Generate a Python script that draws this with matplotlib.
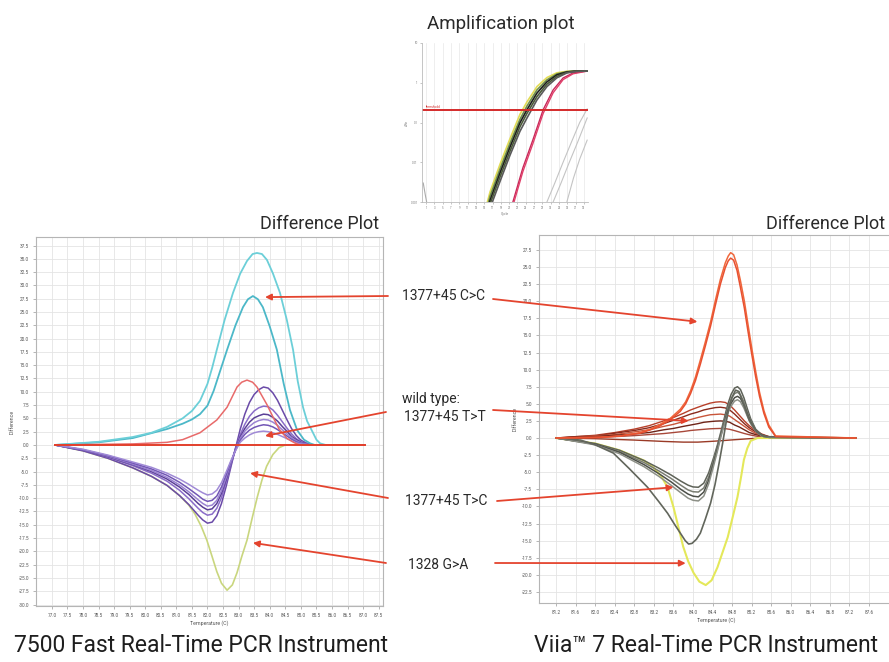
import matplotlib
matplotlib.use("Agg")
import matplotlib.pyplot as plt
from matplotlib import font_manager

# ---- amplification plot (cycle, delta Rn) ----
amp_bundle_x = [15.5, 16.4, 18.8, 21.2, 23.6, 25.3, 27.7, 30.1, 32.5, 34.9, 37.0, 39.8]
amp_bundle = [
    [0.0008, 0.0018, 0.0089, 0.039, 0.16, 0.33, 0.80, 1.35, 1.78, 1.94, 1.98, 1.99],
    [0.0006, 0.0014, 0.0068, 0.030, 0.12, 0.26, 0.66, 1.18, 1.67, 1.90, 1.97, 1.99],
    [0.0005, 0.0011, 0.0054, 0.024, 0.098, 0.21, 0.55, 1.05, 1.58, 1.87, 1.96, 1.98],
    [0.0004, 0.0009, 0.0043, 0.019, 0.078, 0.17, 0.45, 0.92, 1.45, 1.82, 1.94, 1.98],
    [0.0003, 0.0007, 0.0033, 0.015, 0.060, 0.13, 0.37, 0.80, 1.33, 1.76, 1.92, 1.97],
]
amp_bundle_colors = ["#e2dc55", "#6f8f4a", "#1e1e1e", "#4a5a38", "#5a5a5a"]
amp_red_x = [21.0, 21.9, 24.3, 26.7, 29.2, 31.6, 34.0, 36.4, 39.8]
amp_red = [
    [0.0005, 0.001, 0.0072, 0.036, 0.21, 0.66, 1.32, 1.76, 1.98],
    [0.0004, 0.0008, 0.0058, 0.029, 0.17, 0.56, 1.20, 1.68, 1.96],
]
amp_grey_x = [
    [29.5, 30.1, 32.0, 34.0, 36.0, 38.0, 39.8],
    [31.0, 31.6, 33.5, 35.5, 37.5, 39.8],
    [34.3, 34.9, 36.5, 38.0, 39.8],
]
amp_grey = [
    [0.0006, 0.001, 0.003, 0.010, 0.032, 0.10, 0.22],
    [0.0006, 0.001, 0.003, 0.010, 0.032, 0.13],
    [0.0006, 0.001, 0.004, 0.012, 0.036],
]
amp_tail_x = [0.3, 0.8, 1.2]
amp_tail = [0.003, 0.0015, 0.0009]
amp_threshold = 0.21

# ---- 7500 Fast difference plot ----
l_cyan_a_x = [77.1, 78.5, 79.6, 80.2, 80.7, 81.2, 81.5, 81.76, 82.0, 82.15, 82.3, 82.55, 82.82,
              83.05, 83.27, 83.45, 83.59, 83.75, 83.91, 84.1, 84.33, 84.55, 84.75, 84.9, 85.07,
              85.2, 85.39, 85.5, 85.62, 85.8, 87.06]
l_cyan_a = [0, 0.6, 1.5, 2.3, 3.4, 5.0, 6.4, 8.3, 11.5, 14.5, 17.9, 23.5, 28.6,
            32.2, 34.6, 35.9, 36.1, 35.9, 34.8, 32.3, 28.6, 23.5, 17.9, 12.0, 7.1,
            4.5, 2.3, 1.0, 0.3, 0, 0]
l_cyan_b_x = [77.1, 78.5, 79.6, 80.7, 81.2, 81.5, 81.76, 82.0, 82.2, 82.4, 82.63, 82.9, 83.14,
              83.3, 83.46, 83.62, 83.78, 84.0, 84.23, 84.45, 84.65, 84.88, 85.1, 85.3, 85.45, 87.06]
l_cyan_b = [0, 0.5, 1.3, 3.0, 4.0, 4.8, 5.8, 7.4, 10.2, 13.8, 17.9, 22.5, 25.9,
            27.4, 28.0, 27.4, 25.9, 22.3, 17.9, 11.5, 6.6, 2.8, 1.0, 0.3, 0, 0]
l_salmon_x = [77.1, 79.6, 80.7, 81.2, 81.76, 82.3, 82.63, 82.95, 83.1, 83.27, 83.45, 83.59,
              83.91, 84.11, 84.3, 84.56, 84.8, 84.97, 87.06]
l_salmon = [0, 0.2, 0.5, 1.0, 2.3, 4.7, 7.1, 10.9, 11.8, 12.2, 11.8, 10.9,
            7.6, 5.2, 3.0, 1.2, 0.4, 0, 0]
l_ref_x = [77.1, 87.06]
l_ref = [0, 0]
l_purple_x = [77.1, 78.0, 78.8, 79.6, 80.2, 80.7, 81.1, 81.4, 81.7, 81.85, 82.0, 82.15, 82.3,
              82.45, 82.6, 82.75, 82.9, 83.05, 83.2, 83.35, 83.5, 83.65, 83.8, 83.95, 84.1,
              84.25, 84.4, 84.55, 84.7, 84.85, 85.0, 85.2, 85.4, 87.06]
l_purple = [
    [0, -1.1, -2.5, -4.3, -5.9, -7.6, -9.5, -11.2, -13.2, -14.1, -14.7, -14.5, -13.3,
     -11.0, -7.8, -4.2, -0.6, 2.9, 5.8, 8.0, 9.5, 10.4, 10.9, 10.7, 9.8,
     8.4, 6.6, 4.8, 3.1, 1.8, 0.9, 0.3, 0, 0],
    [0, -1.0, -2.3, -3.9, -5.3, -6.8, -8.5, -10.1, -11.9, -12.7, -13.2, -13.0, -11.9,
     -9.9, -7.0, -3.8, -0.7, 1.9, 3.9, 5.4, 6.4, 7.0, 7.3, 7.2, 6.6,
     5.6, 4.4, 3.2, 2.1, 1.2, 0.6, 0.2, 0, 0],
    [0, -1.0, -2.2, -3.7, -5.0, -6.4, -7.9, -9.3, -11.0, -11.7, -12.2, -12.0, -11.0,
     -9.1, -6.5, -3.6, -0.8, 1.5, 3.1, 4.3, 5.1, 5.5, 5.8, 5.7, 5.2,
     4.5, 3.5, 2.6, 1.6, 1.0, 0.5, 0.2, 0, 0],
    [0, -0.9, -2.1, -3.6, -4.8, -6.1, -7.5, -8.8, -10.3, -11.0, -11.5, -11.3, -10.4,
     -8.6, -6.1, -3.4, -0.9, 1.2, 2.6, 3.5, 4.2, 4.6, 4.8, 4.7, 4.3,
     3.7, 2.9, 2.1, 1.4, 0.8, 0.4, 0.1, 0, 0],
    [0, -0.9, -2.0, -3.4, -4.5, -5.7, -7.0, -8.2, -9.5, -10.2, -10.6, -10.4, -9.6,
     -7.9, -5.6, -3.2, -1.0, 0.9, 2.0, 2.8, 3.3, 3.6, 3.8, 3.7, 3.4,
     2.9, 2.3, 1.7, 1.1, 0.6, 0.3, 0.1, 0, 0],
    [0, -0.8, -1.9, -3.2, -4.2, -5.3, -6.4, -7.4, -8.5, -9.0, -9.4, -9.2, -8.5,
     -7.1, -5.1, -3.0, -1.1, 0.5, 1.3, 1.9, 2.3, 2.5, 2.6, 2.5, 2.3,
     2.0, 1.6, 1.2, 0.8, 0.4, 0.2, 0.1, 0, 0],
]
l_purple_colors = ["#6a4aa8", "#8a6cc8", "#5b3f96", "#9b83d2", "#7256b5", "#a08ad6"]
l_green_x = [77.1, 78.0, 78.8, 79.6, 80.2, 80.7, 81.1, 81.4, 81.6, 81.8, 81.98, 82.15, 82.3,
             82.45, 82.63, 82.8, 82.95, 83.1, 83.27, 83.45, 83.6, 83.75, 83.9, 84.1, 84.3, 84.5, 87.06]
l_green = [0, -1.1, -2.5, -4.3, -5.9, -7.6, -9.5, -11.3, -13.0, -15.3, -17.9, -21.0, -23.8,
           -26.0, -27.3, -26.3, -24.0, -21.0, -17.9, -13.4, -9.8, -6.6, -4.0, -1.8, -0.5, 0, 0]
l_xticks = [77.0 + 0.5 * i for i in range(22)]
l_yticks = [-30.0 + 2.5 * i for i in range(28)]

# ---- Viia 7 difference plot ----
r_orange_x = [81.2, 82.1, 82.51, 82.92, 83.13, 83.33, 83.54, 83.74, 83.85, 83.95, 84.05, 84.15,
              84.25, 84.36, 84.46, 84.56, 84.66, 84.72, 84.77, 84.83, 84.9, 84.97, 85.05, 85.12,
              85.2, 85.28, 85.36, 85.45, 85.55, 85.69, 87.33]
r_orange = [
    [0, 0.1, 0.3, 0.8, 1.3, 2.0, 2.9, 4.2, 5.3, 6.9, 8.9, 11.4, 14.0, 17.0, 20.2, 23.2,
     25.6, 26.6, 27.1, 26.8, 25.3, 23.0, 20.0, 16.8, 13.2, 9.8, 6.7, 4.0, 1.9, 0.3, 0],
    [0, 0.1, 0.3, 0.7, 1.2, 1.8, 2.7, 3.9, 5.0, 6.5, 8.4, 10.8, 13.4, 16.4, 19.5, 22.5,
     24.9, 25.9, 26.3, 26.0, 24.5, 22.0, 19.0, 15.8, 12.3, 9.0, 6.1, 3.6, 1.6, 0.2, 0],
]
r_brown_x = [81.2, 81.6, 82.0, 82.4, 82.8, 83.1, 83.4, 83.6, 83.8, 83.95, 84.1, 84.22, 84.35,
             84.46, 84.56, 84.66, 84.75, 84.85, 84.95, 85.05, 85.15, 85.28, 85.4, 85.55, 85.7, 87.33]
r_brown = [
    [0, 0.2, 0.4, 0.8, 1.3, 1.8, 2.5, 3.0, 3.6, 4.1, 4.5, 4.8, 5.1, 5.25, 5.3, 5.2, 4.8, 4.1,
     3.3, 2.5, 1.8, 1.1, 0.6, 0.2, 0, 0],
    [0, 0.2, 0.3, 0.7, 1.1, 1.5, 2.1, 2.6, 3.1, 3.5, 3.8, 4.1, 4.3, 4.45, 4.5, 4.4, 4.1, 3.5,
     2.8, 2.1, 1.5, 0.9, 0.5, 0.2, 0, 0],
    [0, 0.1, 0.3, 0.5, 0.9, 1.2, 1.7, 2.0, 2.4, 2.7, 3.0, 3.2, 3.4, 3.45, 3.5, 3.4, 3.2, 2.7,
     2.2, 1.7, 1.2, 0.7, 0.4, 0.1, 0, 0],
    [0, 0.1, 0.2, 0.4, 0.6, 0.8, 1.2, 1.4, 1.7, 1.9, 2.1, 2.3, 2.4, 2.47, 2.5, 2.45, 2.3, 1.9,
     1.6, 1.2, 0.8, 0.5, 0.3, 0.1, 0, 0],
    [0, 0.05, 0.1, 0.2, 0.35, 0.5, 0.65, 0.8, 0.95, 1.1, 1.2, 1.27, 1.35, 1.38, 1.4, 1.37,
     1.27, 1.08, 0.87, 0.66, 0.48, 0.29, 0.16, 0.05, 0, 0],
    [0, -0.05, -0.1, -0.2, -0.3, -0.4, -0.5, -0.55, -0.6, -0.6, -0.6, -0.55, -0.5, -0.45,
     -0.4, -0.35, -0.3, -0.25, -0.2, -0.15, -0.1, -0.05, 0, 0, 0, 0],
]
r_brown_colors = ["#b8402a", "#8a2a1c", "#c8553a", "#6e2418", "#a8483a", "#9a3a26"]
r_grey_x = [81.2, 82.0, 82.5, 83.0, 83.3, 83.55, 83.75, 83.9, 84.0, 84.11, 84.22, 84.32, 84.42,
            84.5, 84.57, 84.64, 84.71, 84.78, 84.85, 84.91, 84.97, 85.04, 85.11, 85.18, 85.28,
            85.4, 85.55, 87.33]
r_grey = [
    [0, -0.8, -1.8, -3.3, -4.4, -5.4, -6.3, -6.9, -7.15, -7.2, -6.6, -5.1, -2.9, -1.0, 0.9,
     2.9, 4.9, 6.4, 7.3, 7.5, 7.1, 5.9, 4.3, 2.8, 1.3, 0.5, 0.1, 0],
    [0, -0.9, -2.0, -3.6, -4.8, -5.9, -6.9, -7.6, -7.85, -7.9, -7.3, -5.7, -3.3, -1.3, 0.6,
     2.5, 4.3, 5.7, 6.5, 6.7, 6.3, 5.3, 3.8, 2.5, 1.2, 0.4, 0.1, 0],
    [0, -0.9, -2.1, -3.9, -5.2, -6.4, -7.5, -8.2, -8.5, -8.6, -7.9, -6.2, -3.7, -1.6, 0.4,
     2.2, 3.9, 5.1, 5.9, 6.1, 5.8, 4.8, 3.5, 2.3, 1.1, 0.4, 0.1, 0],
    [0, -1.0, -2.3, -4.2, -5.6, -6.9, -8.0, -8.8, -9.1, -9.2, -8.5, -6.7, -4.1, -1.9, 0.2,
     2.0, 3.6, 4.7, 5.4, 5.6, 5.3, 4.4, 3.2, 2.1, 1.0, 0.3, 0.1, 0],
]
r_grey_colors = ["#5e6258", "#7a7d72", "#4c4f48", "#8c8f86"]
r_deep_x = [81.2, 81.7, 82.0, 82.37, 82.7, 83.07, 83.3, 83.48, 83.62, 83.74, 83.84, 83.91,
            83.98, 84.07, 84.15, 84.25, 84.36, 84.45, 84.53, 84.6, 84.67, 84.73, 84.8, 84.87,
            84.94, 85.04, 85.15, 85.3, 85.45, 87.33]
r_deep = [0, -0.3, -1.0, -2.2, -4.5, -7.2, -9.3, -11.0, -12.6, -13.9, -15.0, -15.5,
          -15.4, -14.8, -13.9, -11.9, -9.5, -6.8, -3.8, -1.0, 2.0, 4.3, 6.0, 7.0,
          6.8, 4.8, 2.6, 0.9, 0.2, 0]
r_yellow_x = [81.2, 82.0, 82.5, 83.0, 83.19, 83.35, 83.48, 83.6, 83.7, 83.8, 83.9, 84.01, 84.13,
              84.26, 84.38, 84.5, 84.6, 84.71, 84.81, 84.91, 84.98, 85.04, 85.11, 85.18, 85.32, 87.33]
r_yellow = [0, -0.8, -1.8, -3.3, -4.3, -5.6, -7.2, -10.1, -13.0, -15.9, -18.0, -19.7, -21.0,
            -21.5, -20.8, -18.9, -16.8, -14.5, -11.6, -8.6, -5.8, -3.2, -1.5, -0.4, 0, 0]
r_xticks = [81.2 + 0.4 * i for i in range(17)]
r_yticks = [-22.5 + 2.5 * i for i in range(21)]

# ---- annotations: label, tip on 7500 plot, tip on Viia plot ----
labels = ["1377+45 C>C", "1377+45 T>T", "1377+45 T>C", "1328 G>A"]
left_tips = [(83.85, 27.8), (83.85, 1.7), (83.37, -5.3), (83.46, -18.4)]
right_tips = [(84.09, 17.0), (83.91, 2.5), (83.6, -7.2), (83.85, -18.3)]

names = {f.name for f in font_manager.fontManager.ttflist}
narrow = "Liberation Sans Narrow" if "Liberation Sans Narrow" in names else "Roboto"
plt.rcParams["font.family"] = ["Roboto", "DejaVu Sans"]

W, H = 889, 662
fig = plt.figure(figsize=(W / 100, H / 100), dpi=100)
fig.patch.set_facecolor("white")


def box(x0, y0, x1, y1):
    return [x0 / W, 1 - y1 / H, (x1 - x0) / W, (y1 - y0) / H]


def style_diff(ax, xt, yt):
    ax.set_xticks(xt)
    ax.set_xticklabels(["%.1f" % v for v in xt], fontsize=3.4, color="#555555")
    ax.set_yticks(yt)
    ax.set_yticklabels(["%.1f" % v for v in yt], fontsize=3.4, color="#555555")
    ax.tick_params(length=2, width=0.5, color="#999999", pad=3)
    ax.grid(True, color="#e4e4e4", lw=0.6)
    ax.set_axisbelow(True)
    for s in ax.spines.values():
        s.set_color("#b5b5b5")
        s.set_linewidth(0.8)
    ax.set_xlabel("Temperature (C)", fontsize=3.8, color="#555555", labelpad=2)
    ax.set_ylabel("Difference", fontsize=3.8, color="#555555", labelpad=3)


# amplification plot
axa = fig.add_axes(box(422, 43, 588, 202))
for xs, ys in zip(amp_grey_x, amp_grey):
    axa.plot(xs, ys, color="#c4c4c4", lw=0.8)
axa.plot(amp_tail_x, amp_tail, color="#aaaaaa", lw=0.8)
for ys, c in zip(amp_red, ["#c8285a", "#e0406a"]):
    axa.plot(amp_red_x, ys, color=c, lw=1.0)
for ys, c in zip(amp_bundle, amp_bundle_colors):
    axa.plot(amp_bundle_x, ys, color=c, lw=1.2)
axa.axhline(amp_threshold, color="#d42a2a", lw=1.4)
axa.text(1.0, amp_threshold * 1.12, "threshold", color="#d42a2a", fontsize=2.5)
axa.set_yscale("log")
axa.set_ylim(1e-3, 10)
axa.set_xlim(0, 40)
axa.set_xticks(range(1, 41, 2))
axa.set_xticklabels([str(v) for v in range(1, 41, 2)], fontsize=2.0, color="#777777")
axa.set_yticks([1e-3, 1e-2, 1e-1, 1, 10])
axa.set_yticklabels(["0.001", "0.01", "0.1", "1", "10"], fontsize=2.2, color="#777777")
axa.minorticks_off()
axa.tick_params(length=1.5, width=0.4, color="#999999", pad=1.5)
axa.grid(True, axis="x", color="#e8e8e8", lw=0.5)
axa.set_xlabel("Cycle", fontsize=2.4, color="#777777", labelpad=1)
axa.set_ylabel("\u0394Rn", fontsize=2.4, color="#777777", labelpad=1)
for k in ["top", "right"]:
    axa.spines[k].set_visible(False)
for k in ["left", "bottom"]:
    axa.spines[k].set_color("#bbbbbb")
    axa.spines[k].set_linewidth(0.6)
fig.text(501 / W, 1 - 24 / H, "Amplification plot", ha="center", va="center",
         fontsize=13.5, color="#2a2a2a")

# 7500 Fast difference plot
axl = fig.add_axes(box(36, 237, 383, 606))
axl.plot(l_green_x, l_green, color="#c9d67e", lw=1.2)
for ys, c in zip(l_purple, l_purple_colors):
    axl.plot(l_purple_x, ys, color=c, lw=1.1)
axl.plot(l_cyan_b_x, l_cyan_b, color="#4cb8c8", lw=1.3)
axl.plot(l_cyan_a_x, l_cyan_a, color="#6ccfd8", lw=1.3)
axl.plot(l_salmon_x, l_salmon, color="#e86a6a", lw=1.1)
axl.plot(l_ref_x, l_ref, color="#e2402c", lw=1.4)
axl.set_xlim(76.49, 87.64)
axl.set_ylim(-30.27, 39.1)
style_diff(axl, l_xticks, l_yticks)
fig.text(379 / W, 1 - 224 / H, "Difference Plot", ha="right", va="center",
         fontsize=13, color="#2a2a2a")

# Viia 7 difference plot
axr = fig.add_axes(box(539, 235, 893, 603))
for ys, c in zip(r_brown, r_brown_colors):
    axr.plot(r_brown_x, ys, color=c, lw=1.0)
axr.plot(r_yellow_x, r_yellow, color="#e4e85a", lw=1.5)
for ys, c in zip(r_grey, r_grey_colors):
    axr.plot(r_grey_x, ys, color=c, lw=1.1)
axr.plot(r_deep_x, r_deep, color="#62665c", lw=1.2)
for ys, c in zip(r_orange, ["#f0683c", "#e85030"]):
    axr.plot(r_orange_x, ys, color=c, lw=1.1)
axr.set_xlim(80.85, 88.09)
axr.set_ylim(-24.12, 29.68)
style_diff(axr, r_xticks, r_yticks)
fig.text(885 / W, 1 - 224 / H, "Difference Plot", ha="right", va="center",
         fontsize=13, color="#2a2a2a")

# middle labels and arrows
label_y = [296, 417, 501, 565]
label_x = [443, 445, 446, 438]
tail_left = [388, 386, 388, 386]
tail_right = [493, 493, 497, 495]
tail_right_y = [299, 410, 501, 563]
tail_left_y = [296, 412, 498, 563]
for i, lab in enumerate(labels):
    fig.text(label_x[i] / W, 1 - label_y[i] / H, lab, ha="center", va="center",
             fontsize=10, family=[narrow, "DejaVu Sans"], color="#2a2a2a")
    axl.annotate("", xy=left_tips[i], xycoords="data",
                 xytext=(tail_left[i] / W, 1 - tail_left_y[i] / H), textcoords="figure fraction",
                 arrowprops=dict(arrowstyle="-|>", color="#e4442e", lw=1.3, mutation_scale=9,
                                 shrinkA=0, shrinkB=0), annotation_clip=False)
    axr.annotate("", xy=right_tips[i], xycoords="data",
                 xytext=(tail_right[i] / W, 1 - tail_right_y[i] / H), textcoords="figure fraction",
                 arrowprops=dict(arrowstyle="-|>", color="#e4442e", lw=1.3, mutation_scale=9,
                                 shrinkA=0, shrinkB=0), annotation_clip=False)
fig.text(402 / W, 1 - 399 / H, "wild type:", ha="left", va="center",
         fontsize=10, family=[narrow, "DejaVu Sans"], color="#2a2a2a")

# instrument captions
fig.text(201 / W, 1 - 645 / H, "7500 Fast Real-Time PCR Instrument", ha="center", va="center",
         fontsize=16.5, color="#1e1e1e")
fig.text(706 / W, 1 - 645 / H, "Viia\u2122 7 Real-Time PCR Instrument", ha="center", va="center",
         fontsize=16.5, color="#1e1e1e")

fig.savefig("out.png", dpi=100, facecolor="white")
